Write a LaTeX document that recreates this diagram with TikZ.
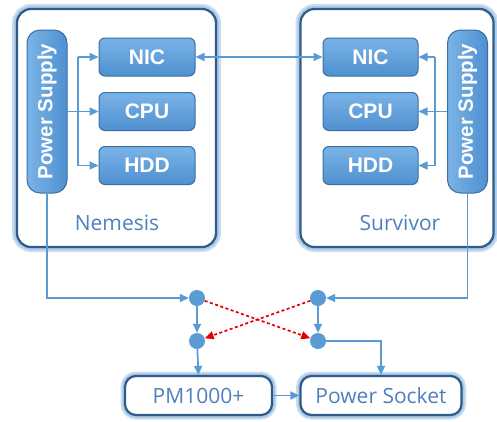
\documentclass[tikz,border=0pt]{standalone}
\usepackage{fontspec}
\newfontfamily\lblfont{Open Sans}
\newfontfamily\boxfont{Liberation Sans}
\usetikzlibrary{arrows.meta}
\definecolor{lnblue}{HTML}{5B9BD5}
\definecolor{bdblue}{HTML}{3A6EA5}
\definecolor{dkblue}{HTML}{2F5B88}
\definecolor{txtblue}{HTML}{4F7FBF}
\definecolor{topblue}{HTML}{7AB3E6}
\definecolor{botblue}{HTML}{4F90D0}
\definecolor{glowblue}{HTML}{A9C8E8}
\begin{document}
\begin{tikzpicture}[x=1pt,y=-1pt,
  outerbox/.style={draw=dkblue, line width=2.2pt, fill=white, rounded corners=14pt,
    preaction={draw=glowblue!60, line width=10pt},
    preaction={draw=glowblue, line width=6pt},
    inner sep=0pt},
  pillbox/.style={draw=dkblue, line width=2.2pt, fill=white, rounded corners=11pt,
    preaction={draw=glowblue!60, line width=9pt},
    preaction={draw=glowblue, line width=5.5pt},
    inner sep=0pt, text=txtblue, font=\lblfont\fontsize{21}{21}\selectfont},
  comp/.style={draw=bdblue, line width=1pt, rounded corners=6pt, top color=topblue,
    bottom color=botblue, minimum width=96pt, minimum height=38pt, inner sep=0pt,
    text=white, font=\boxfont\bfseries\fontsize{21}{21}\selectfont},
  psbox/.style={draw=bdblue, line width=1pt, rounded corners=13pt, left color=topblue,
    right color=botblue, minimum width=40pt, minimum height=163pt, inner sep=0pt},
  pstext/.style={rotate=90, text=white, font=\boxfont\bfseries\fontsize{20.5}{20.5}\selectfont, inner sep=0pt},
  lbl/.style={text=txtblue, font=\lblfont\fontsize{21}{21}\selectfont, inner sep=0pt},
  dot/.style={circle, fill=lnblue, minimum size=16pt, inner sep=0pt},
  conn/.style={draw=lnblue, line width=1.7pt, -{Triangle[length=9pt,width=8pt]}},
  plainconn/.style={draw=lnblue, line width=1.7pt},
  redarr/.style={draw=red!90!black, line width=1.7pt, dash pattern=on 3pt off 2.5pt,
    -{Triangle[length=9pt,width=8pt]}}
]
\useasboundingbox (0,0) rectangle (497,421);
% servers
\node[outerbox, minimum width=199pt, minimum height=238pt] (nem) at (116.5,128) {};
\node[outerbox, minimum width=193pt, minimum height=238pt] (sur) at (397,128) {};
\node[lbl] (nemlbl) at (117,223) {Nemesis};
\node[lbl] (surlbl) at (400,223) {Survivor};
% left components
\node[psbox] (psL) at (47,111.5) {};
\node[pstext] (psLt) at (psL) {Power Supply};
\node[comp] (nicL) at (147,57) {NIC};
\node[comp] (cpuL) at (147,111.5) {CPU};
\node[comp] (hddL) at (147,165.5) {HDD};
% right components
\node[psbox] (psR) at (467.5,111.5) {};
\node[pstext] (psRt) at (psR) {Power Supply};
\node[comp, minimum width=95pt] (nicR) at (370.5,57) {NIC};
\node[comp, minimum width=95pt] (cpuR) at (370.5,111.5) {CPU};
\node[comp, minimum width=95pt] (hddR) at (370.5,165.5) {HDD};
% internal branches
\coordinate (bL) at (78,111.5);
\coordinate (bR) at (435,111.5);
\draw[plainconn] (psL.east |- bL) -- (bL);
\draw[plainconn] (bL |- nicL) -- (bL |- hddL);
\draw[conn] (bL |- nicL) -- (nicL.west);
\draw[conn] (bL) -- (cpuL.west);
\draw[conn] (bL |- hddL) -- (hddL.west);
\draw[plainconn] (psR.west |- bR) -- (bR);
\draw[plainconn] (bR |- nicR) -- (bR |- hddR);
\draw[conn] (bR |- nicR) -- (nicR.east);
\draw[conn] (bR) -- (cpuR.east);
\draw[conn] (bR |- hddR) -- (hddR.east);
% network
\draw[conn, {Triangle[length=9pt,width=8pt]}-{Triangle[length=9pt,width=8pt]}] (nicL.east) -- (nicR.west);
% bottom
\node[dot] (dA) at (197,298) {};
\node[dot] (dB) at (318,298) {};
\node[dot] (dC) at (197,341) {};
\node[dot] (dD) at (318,341) {};
\node[pillbox, minimum width=147pt, minimum height=39pt] (pm) at (198.5,395.5) {PM1000+};
\node[pillbox, minimum width=161pt, minimum height=39pt] (sock) at (381,395.5) {Power Socket};
\draw[conn] (psL.south) -- (psL.south |- dA) -- (dA.west);
\draw[conn] (psR.south) -- (psR.south |- dB) -- (dB.east);
\draw[conn] (dA) -- (dC);
\draw[conn] (dB) -- (dD);
\draw[redarr] (dA) -- (dD);
\draw[redarr] (dB) -- (dC);
\draw[conn] (dC) -- (pm.north);
\draw[conn] (dD.east) -| (sock.north);
\draw[conn] (pm.east) -- (sock.west);
\end{tikzpicture}
\end{document}
